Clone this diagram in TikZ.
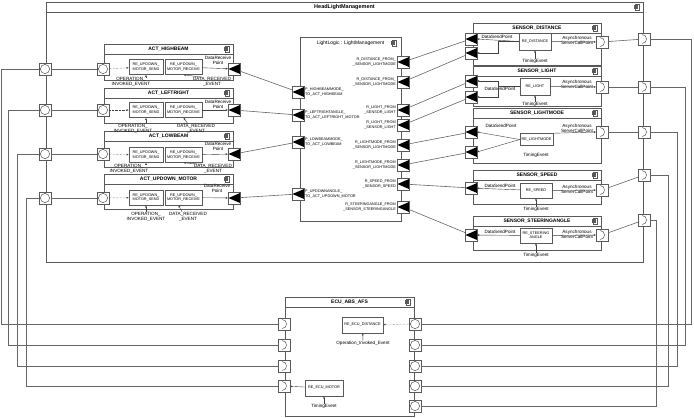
\documentclass[tikz,border=0pt]{standalone}
\usepackage{fontspec}
\setmainfont{Liberation Sans}
\usetikzlibrary{arrows.meta,positioning,calc}
\tikzset{
  swcbox/.style ={rectangle, draw=black!65, fill=white, line width=0.6pt,
                  inner sep=0, outer sep=0, anchor=north west},
  ttl/.style    ={font=\fontsize{5}{5.5}\selectfont\bfseries, inner sep=0},
  lltl/.style   ={font=\fontsize{5}{5.5}\selectfont, inner sep=0},
  lbl/.style    ={font=\fontsize{4.6}{4.9}\selectfont, inner sep=0, align=center},
  plbl/.style   ={font=\fontsize{3.8}{4.2}\selectfont, inner sep=0},
  rebox/.style  ={rectangle, draw=black!65, fill=white, line width=0.5pt, inner sep=0.5pt,
                  align=center, font=\fontsize{3.8}{4.2}\selectfont},
  portbox/.style={rectangle, draw=black!65, fill=white, line width=0.5pt,
                  minimum size=12pt, inner sep=0, outer sep=0},
  pport/.style  ={portbox, path picture={\draw[black!65, line width=0.5pt]
                  (path picture bounding box.center) circle (4.6pt);}},
  rport/.style  ={portbox, path picture={\draw[black!65, line width=0.5pt]
                  ($(path picture bounding box.center)+(-2pt,4.5pt)$) .. controls +(6pt,0pt) and +(6pt,0pt)
                  .. ($(path picture bounding box.center)+(-2pt,-4.5pt)$);}},
  sport/.style  ={portbox, path picture={\fill[black]
                  ($(path picture bounding box.west)+(0.5pt,0pt)$)
                  -- ($(path picture bounding box.north east)+(0pt,-1pt)$)
                  -- ($(path picture bounding box.south east)+(0pt,1pt)$) -- cycle;}},
  wire/.style   ={draw=black!60, line width=0.6pt},
  ar/.style     ={-{Latex[length=2.2pt,width=2pt]}, draw=black!75, line width=0.4pt},
  dar/.style    ={ar, densely dotted},
  cicon/.pic    ={\draw[black!65, fill=white, line width=0.35pt] (-1.5pt,-2.7pt) rectangle (1.8pt,2.7pt);
                  \draw[black!65, fill=white, line width=0.35pt] (-2.7pt,0.6pt) rectangle (-0.3pt,1.6pt);
                  \draw[black!65, fill=white, line width=0.35pt] (-2.7pt,-1.6pt) rectangle (-0.3pt,-0.6pt);},
}
% software component: name, x, y, width, height, title
\newcommand{\swc}[6]{%
  \node[swcbox, minimum width=#4pt, minimum height=#5pt] (#1) at (#2,#3) {};
  \draw[black!65, line width=0.4pt] ([yshift=-10pt]#1.north west) -- ([yshift=-10pt]#1.north east);
  \node[ttl] (#1title) at ([yshift=-5pt]#1.north) {#6};
  \pic at ([xshift=-6pt,yshift=-5pt]#1.north east) {cicon};
}

\begin{document}
\begin{tikzpicture}[x=1pt, y=-1pt]
\useasboundingbox (0,0) rectangle (694,418);

% composition
\swc{hlm}{46}{2}{597}{260}{\fontsize{5.5}{6}\selectfont HeadLightManagement}

% actuators
\swc{hb}{104}{44}{129}{36}{ACT\_HIGHBEAM}
\swc{lr}{104}{88}{129}{35}{ACT\_LEFTRIGHT}
\swc{lb}{104}{131}{129}{36}{ACT\_LOWBEAM}
\swc{ud}{104}{174}{129}{35}{ACT\_UPDOWN\_MOTOR}

\node[rebox, minimum width=34pt, minimum height=15pt] (hbsend) at (146,67) {RE\_UPDOWN\_\\MOTOR\_SEND};
\node[rebox, minimum width=37pt, minimum height=15pt] (hbrecv) at (183.5,67) {RE\_UPDOWN\_\\MOTOR\_RECEIVE};
\node[lbl] (hbdp) at (218,60.5) {DataReceive\\Point};
\node[lbl] (hbop) at (131,82) {OPERATION\_\\INVOKED\_EVENT};
\node[lbl] (hbdr) at (212,82) {DATA\_RECEIVED\\\_EVENT};

\node[rebox, minimum width=34pt, minimum height=15pt] (lrsend) at (146,110) {RE\_UPDOWN\_\\MOTOR\_SEND};
\node[rebox, minimum width=37pt, minimum height=15pt] (lrrecv) at (183.5,110) {RE\_UPDOWN\_\\MOTOR\_RECEIVE};
\node[lbl] (lrdp) at (218,104) {DataReceive\\Point};
\node[lbl] (lrop) at (133,128.5) {OPERATION\_\\INVOKED\_EVENT};
\node[lbl] (lrdr) at (196,128.5) {DATA\_RECEIVED\\\_EVENT};

\node[rebox, minimum width=34pt, minimum height=15pt] (lbsend) at (146,155) {RE\_UPDOWN\_\\MOTOR\_SEND};
\node[rebox, minimum width=37pt, minimum height=15pt] (lbrecv) at (183.5,155) {RE\_UPDOWN\_\\MOTOR\_RECEIVE};
\node[lbl] (lbdp) at (218,146.5) {DataReceive\\Point};
\node[lbl] (lbop) at (129,169) {OPERATION\_\\INVOKED\_EVENT};
\node[lbl] (lbdr) at (213,169) {DATA\_RECEIVED\\\_EVENT};

\node[rebox, minimum width=34pt, minimum height=15pt] (udsend) at (146,197.5) {RE\_UPDOWN\_\\MOTOR\_SEND};
\node[rebox, minimum width=37pt, minimum height=15pt] (udrecv) at (183.5,197.5) {RE\_UPDOWN\_\\MOTOR\_RECEIVE};
\node[lbl] (uddp) at (217,188) {DataReceive\\Point};
\node[lbl] (udop) at (146,216.5) {OPERATION\_\\INVOKED\_EVENT};
\node[lbl] (uddr) at (188,216.5) {DATA\_RECEIVED\\\_EVENT};

% light logic
\node[swcbox, minimum width=101pt, minimum height=184pt] (ll) at (300,37) {};
\node[lltl] (lltitle) at ([yshift=-6pt]ll.north) {LightLogic : LightManagement};
\pic at ([xshift=-7pt,yshift=-6pt]ll.north east) {cicon};

\node[plbl, anchor=west, align=left] (llhbl) at (305,92) {P\_HIGHBEAMMODE\_\\TO\_ACT\_HIGHBEAM};
\node[plbl, anchor=west, align=left] (lllrl) at (305,115) {P\_LEFTRIGHTANGLE\_\\TO\_ACT\_LEFTRIGHT\_MOTOR};
\node[plbl, anchor=west, align=left] (lllbl) at (305,142) {P\_LOWBEAMMODE\_\\TO\_ACT\_LOWBEAM};
\node[plbl, anchor=west, align=left] (lludl) at (305,194) {P\_UPDOWNANGLE\_\\TO\_ACT\_UPDOWN\_MOTOR};

\node[plbl, anchor=east, align=right] (lld1l) at (396,62) {R\_DISTANCE\_FROM\_\\\_SENSOR\_LIGHTMODE};
\node[plbl, anchor=east, align=right] (lld2l) at (396,82) {R\_DISTANCE\_FROM\_\\\_SENSOR\_LIGHTMODE};
\node[plbl, anchor=east, align=right] (lll1l) at (396,110) {R\_LIGHT\_FROM\\\_SENSOR\_LIGHT};
\node[plbl, anchor=east, align=right] (lll2l) at (396,125) {R\_LIGHT\_FROM\\\_SENSOR\_LIGHT};
\node[plbl, anchor=east, align=right] (llm1l) at (396,145) {R\_LIGHTMODE\_FROM\\\_SENSOR\_LIGHTMODE};
\node[plbl, anchor=east, align=right] (llm2l) at (396,165) {R\_LIGHTMODE\_FROM\\\_SENSOR\_LIGHTMODE};
\node[plbl, anchor=east, align=right] (llspl) at (396,184) {R\_SPEED\_FROM\\\_SENSOR\_SPEED};
\node[plbl, anchor=east, align=right] (llstl) at (396,207) {R\_STEERINGANGLE\_FROM\\\_SENSOR\_STEERINGANGLE};

% sensors
\swc{sd}{473}{23}{128}{42}{SENSOR\_DISTANCE}
\swc{sl}{473}{66}{128}{40}{SENSOR\_LIGHT}
\swc{slm}{473}{108}{128}{55}{SENSOR\_LIGHTMODE}
\swc{ssp}{473}{170}{128}{34}{SENSOR\_SPEED}
\swc{sst}{473}{216}{128}{34}{SENSOR\_STEERINGANGLE}

\node[rebox, minimum width=32pt, minimum height=17pt] (sdre) at (535,41.5) {RE\_DISTANCE};
\node[lbl] (sddp) at (497,36.5) {DataSendPoint};
\node[lbl] (sdac) at (577,40) {Asynchronous\\ServerCallPoint};
\node[lbl] (sdte) at (535,61) {TimingEvent};

\node[rebox, minimum width=30pt, minimum height=17pt] (slre) at (535,86.5) {RE\_LIGHT};
\node[lbl] (sldp) at (500,88.5) {DataSendPoint};
\node[lbl] (slac) at (577,84) {Asynchronous\\ServerCallPoint};
\node[lbl] (slte) at (535,104) {TimingEvent};

\node[rebox, minimum width=33pt, minimum height=12pt] (slmre) at (536.5,139.5) {RE\_LIGHTMODE};
\node[lbl] (slmdp) at (501,126) {DataSendPoint};
\node[lbl] (slmac) at (577,128.5) {Asynchronous\\ServerCallPoint};
\node[lbl] (slmte) at (536,155) {TimingEvent};

\node[rebox, minimum width=32pt, minimum height=15pt] (sspre) at (536,190.5) {RE\_SPEED};
\node[lbl] (sspdp) at (500,185.5) {DataSendPoint};
\node[lbl] (sspac) at (577,189) {Asynchronous\\ServerCallPoint};
\node[lbl] (sspte) at (536,209) {TimingEvent};

\node[rebox, minimum width=32pt, minimum height=15pt] (sstre) at (536,235.5) {RE\_STEERING\\ANGLE};
\node[lbl] (sstdp) at (500,231.5) {DataSendPoint};
\node[lbl] (sstac) at (577,234.5) {Asynchronous\\ServerCallPoint};
\node[lbl] (sstte) at (536,255) {TimingEvent};

% ECU
\swc{ecu}{285}{297}{129}{119}{ECU\_ABS\_AFS}
\node[rebox, minimum width=41pt, minimum height=16pt] (ecudist) at (362.5,325) {RE\_ECU\_DISTANCE};
\node[lbl] (ecuoie) at (363,343) {Operation\_Invoked\_Event};
\node[rebox, minimum width=38pt, minimum height=16pt] (ecumot) at (324,388) {RE\_ECU\_MOTOR};
\node[lbl] (ecute) at (324,406) {TimingEvent};

% ports
\node[pport] (hbext) at (45,69) {};
\node[pport] (lrext) at (45,110) {};
\node[pport] (lbext) at (45,154) {};
\node[pport] (udext) at (45,198) {};
\node[pport] (hbin) at (103,69) {};
\node[pport] (lrin) at (103,110) {};
\node[pport] (lbin) at (103,154) {};
\node[pport] (udin) at (103,198) {};
\node[sport] (hbout) at (234,69) {};
\node[sport] (lrout) at (234,110) {};
\node[sport] (lbout) at (234,154) {};
\node[sport] (udout) at (234,198) {};

\node[sport] (llhb) at (298,92) {};
\node[sport] (lllr) at (298,115) {};
\node[sport] (lllb) at (298,142) {};
\node[sport] (llud) at (298,194) {};
\node[sport] (lld1) at (403,62) {};
\node[sport] (lld2) at (403,82) {};
\node[sport] (lll1) at (403,110) {};
\node[sport] (lll2) at (403,125) {};
\node[sport] (llm1) at (403,145) {};
\node[sport] (llm2) at (403,165) {};
\node[sport] (llsp) at (403,184) {};
\node[sport] (llst) at (403,207) {};

\node[sport] (sdo1) at (471,39) {};
\node[sport] (sdo2) at (471,53) {};
\node[sport] (slo1) at (471,81) {};
\node[sport] (slo2) at (471,97) {};
\node[sport] (slmo1) at (471,132) {};
\node[sport] (slmo2) at (471,152) {};
\node[sport] (sspo) at (471,188) {};
\node[sport] (ssto) at (471,235) {};
\node[rport] (sdc) at (602,42) {};
\node[rport] (slc) at (602,87) {};
\node[rport] (slmc) at (602,132) {};
\node[rport] (sspc) at (602,190) {};
\node[rport] (sstc) at (602,235) {};

\node[rport] (sdext) at (644,39) {};
\node[rport] (slext) at (644,87) {};
\node[rport] (slmext) at (644,132) {};
\node[rport] (sspext) at (644,175) {};
\node[rport] (sstext) at (644,220) {};

\node[rport] (ecuin1) at (284,324) {};
\node[rport] (ecuin2) at (284,345) {};
\node[rport] (ecuin3) at (284,366) {};
\node[rport] (ecuin4) at (284,386) {};
\node[pport] (ecuout1) at (415,324) {};
\node[pport] (ecuout2) at (415,345) {};
\node[pport] (ecuout3) at (415,366) {};
\node[pport] (ecuout4) at (415,386) {};
\node[pport] (ecuout5) at (415,406) {};

% inside the actuators
\draw[dar] (hbin) -- (hbsend);
\draw[dar] (lrin) -- (lrsend);
\draw[dar] (lbin) -- (lbsend);
\draw[dar] (udin) -- (udsend);
\draw[ar] (hbrecv) -- (hbout);
\draw[ar] (lrrecv) -- (lrout);
\draw[ar] (lbrecv) -- (lbout);
\draw[ar] (udrecv) -- (udout);
\draw[ar] (hbsend.south |- hbop.north) -- (hbsend.south);
\draw[ar] (lrsend.south |- lrop.north) -- (lrsend.south);
\draw[ar] (lbsend.south |- lbop.north) -- (lbsend.south);
\draw[ar] (udsend.south |- udop.north) -- (udsend.south);
\draw[ar] ([xshift=-10pt]hbdr.north) -- (hbrecv.south);
\draw[ar] ([xshift=-8pt]lrdr.north) -- (lrrecv.south);
\draw[ar] ([xshift=-12pt]lbdr.north) -- (lbrecv.south);
\draw[ar] ([xshift=-6pt]uddr.north) -- ([xshift=-5pt]udrecv.south);

% inside the sensors
\draw[ar] (sdre.west) -- (sdo1.east);
\draw[ar] (sdre.west) -- ++(-21,0) |- (sdo2.east);
\draw[ar] (slre.west) -- ++(-22,0) |- (slo1.east);
\draw[ar] (slre.west) -- ++(-22,0) |- (slo2.east);
\draw[ar] (slmre.west) -- (slmo1.east);
\draw[ar] (slmre.west) -- (slmo2.east);
\draw[ar] (sspre) -- (sspo);
\draw[ar] (sstre) -- (ssto);
\draw[ar] (sdre) -- (sdc);
\draw[ar] (slre) -- (slc);
\draw[ar] (slmre.north east) -- (slmc.west);
\draw[ar] (sspre) -- (sspc);
\draw[ar] (sstre) -- (sstc);
\draw[ar] (sdte) -- (sdre);
\draw[ar] (slte) -- (slre);
\draw[ar] (sspte) -- (sspre);
\draw[ar] (sstte) -- (sstre);

% inside the ECU
\draw[dar] (ecuout1) -- (ecudist);
\draw[ar] (ecuoie) -- (ecudist);
\draw[ar] (ecumot) -- (ecuin4);
\draw[ar] (ecute) -- (ecumot);

% assembly connectors
\draw[wire] (hbout) -- (llhb);
\draw[wire] (lrout) -- (lllr);
\draw[wire] (lbout) -- (lllb);
\draw[wire] (udout) -- (llud);
\draw[wire] (sdo1) -- (lld1);
\draw[wire] (sdo2) -- (lld2);
\draw[wire] (slo1) -- (lll1);
\draw[wire] (slo2) -- (lll2);
\draw[wire] (slmo1) -- (llm1);
\draw[wire] (slmo2) -- (llm2);
\draw[wire] (sspo) -- (llsp);
\draw[wire] (ssto) -- (llst);

% delegation and external connectors
\draw[wire] (hbext) -- (hbin);
\draw[wire] (lrext) -- (lrin);
\draw[wire] (lbext) -- (lbin);
\draw[wire] (udext) -- (udin);
\draw[wire] (sdc) -- (sdext);
\draw[wire] (slc) -- (slext);
\draw[wire] (slmc) -- (slmext);
\draw[wire] (sspc) -- (sspext);
\draw[wire] (sstc) -- (sstext);
\draw[wire] (hbext.west) -- ++(-38,0) |- (ecuin1.west);
\draw[wire] (lrext.west) -- ++(-31,0) |- (ecuin2.west);
\draw[wire] (lbext.west) -- ++(-22,0) |- (ecuin3.west);
\draw[wire] (udext.west) -- ++(-13,0) |- (ecuin4.west);
\draw[wire] (sdext.east) -- ++(41,0) |- (ecuout1.east);
\draw[wire] (slext.east) -- ++(35,0) |- (ecuout2.east);
\draw[wire] (slmext.east) -- ++(27,0) |- (ecuout3.east);
\draw[wire] (sspext.east) -- ++(18,0) |- (ecuout4.east);
\draw[wire] (sstext.east) -- ++(6,0) |- (ecuout5.east);

\end{tikzpicture}
\end{document}
